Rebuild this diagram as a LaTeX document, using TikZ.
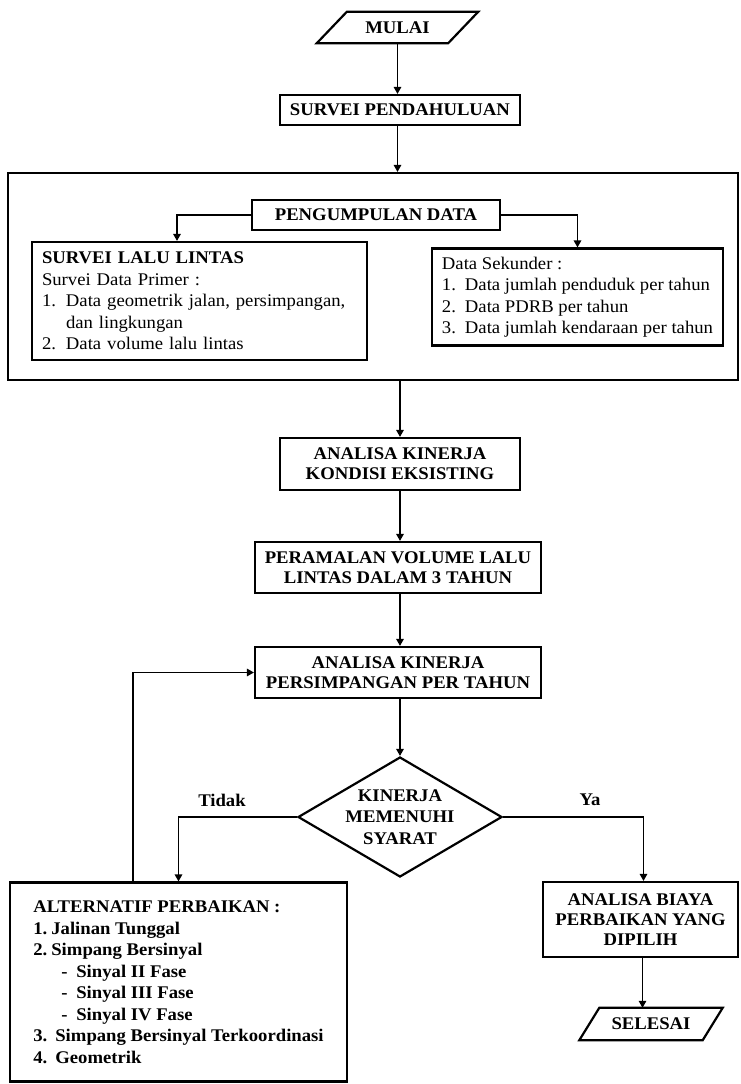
\documentclass[tikz,border=0pt]{standalone}
\usepackage{fontspec}
\setmainfont[FakeStretch=1.05]{Liberation Serif}
\usetikzlibrary{shapes.geometric,arrows.meta}

\newcommand{\nomor}[2]{\makebox[#1][l]{#2}}

\begin{document}
\begin{tikzpicture}[x=1pt, y=-1pt,
    box/.style={draw, line width=2.2pt, inner sep=0pt, align=center,
                font=\fontsize{17.8}{20}\selectfont\bfseries},
    listbox/.style={draw, line width=2.2pt, inner sep=0pt, align=left,
                font=\fontsize{17.8}{21.5}\selectfont},
    io/.style={inner sep=0pt, font=\fontsize{17.8}{20}\selectfont\bfseries},
    arr/.style={line width=1.5pt, -{Triangle[length=7pt,width=7.5pt]}},
    lbl/.style={font=\fontsize{17.8}{20}\selectfont\bfseries}]
    \useasboundingbox (0,0) rectangle (740,1084);
    % start
    \node [io, minimum width=131, minimum height=31] (mulai) at (397.5,27.5) {MULAI};
    \draw [line width=2.2pt] ([xshift=-15pt]mulai.south west) -- ([xshift=15pt]mulai.north west)
          -- ([xshift=15pt]mulai.north east) -- ([xshift=-15pt]mulai.south east) -- cycle;
    \node [box, minimum width=240, minimum height=30] (pendahuluan) at (400,110) {SURVEI PENDAHULUAN};
    % pengumpulan data
    \node [draw, line width=2.2pt, minimum width=730, minimum height=207] (kumpul) at (373,276.5) {};
    \node [box, minimum width=248, minimum height=30] (data) at (376,215) {PENGUMPULAN DATA};
    \node [listbox, minimum width=335, minimum height=118, text width=315] (primer) at (199.5,301)
      {\textbf{SURVEI LALU LINTAS}\\
       Survei Data Primer :\\
       \nomor{24pt}{1.}Data geometrik jalan, persimpangan,\\
       \nomor{24pt}{}dan lingkungan\\
       \nomor{24pt}{2.}Data volume lalu lintas};
    \node [listbox, minimum width=291, minimum height=97] (sekunder) at (577.5,297)
      {Data Sekunder :\\
       \nomor{23pt}{1.}Data jumlah penduduk per tahun\\
       \nomor{23pt}{2.}Data PDRB per tahun\\
       \nomor{23pt}{3.}Data jumlah kendaraan per tahun};
    % analisa
    \node [box, minimum width=240, minimum height=52] (kondisi) at (400,464) {ANALISA KINERJA\\KONDISI EKSISTING};
    \node [box, minimum width=286, minimum height=51] (ramal) at (398,567.5) {PERAMALAN VOLUME LALU\\LINTAS DALAM 3 TAHUN};
    \node [box, minimum width=286, minimum height=51] (simpang) at (398,672.5) {ANALISA KINERJA\\PERSIMPANGAN PER TAHUN};
    % keputusan
    \node [draw, diamond, aspect=1.7, line width=2.2pt, inner sep=-4pt, minimum width=204, minimum height=120,
           align=center, font=\fontsize{17.8}{21.5}\selectfont\bfseries] (syarat) at (400,817) {KINERJA\\MEMENUHI\\SYARAT};
    \node [lbl] (tidak) at (222,800) {Tidak};
    \node [lbl] (ya) at (590,800) {Ya};
    \node [listbox, font=\fontsize{17.8}{21.5}\selectfont\bfseries, minimum width=337, minimum height=199] (alternatif) at (178.5,982)
      {ALTERNATIF PERBAIKAN :\\
       \nomor{18pt}{1.}Jalinan Tunggal\\
       \nomor{18pt}{2.}Simpang Bersinyal\\
       \hspace*{28pt}\nomor{15pt}{-}Sinyal II Fase\\
       \hspace*{28pt}\nomor{15pt}{-}Sinyal III Fase\\
       \hspace*{28pt}\nomor{15pt}{-}Sinyal IV Fase\\
       \nomor{22pt}{3.}Simpang Bersinyal Terkoordinasi\\
       \nomor{22pt}{4.}Geometrik};
    \node [box, minimum width=195, minimum height=75] (biaya) at (640.5,919.5) {ANALISA BIAYA\\PERBAIKAN YANG\\DIPILIH};
    % end
    \node [io, minimum width=123, minimum height=32] (selesai) at (651,1024) {SELESAI};
    \draw [line width=2.2pt] ([xshift=-10pt]selesai.south west) -- ([xshift=10pt]selesai.north west)
          -- ([xshift=10pt]selesai.north east) -- ([xshift=-10pt]selesai.south east) -- cycle;
    % connectors
    \draw [arr] (mulai.south) -- (pendahuluan.north -| mulai.south);
    \draw [arr] (pendahuluan.south -| mulai.south) -- (kumpul.north -| mulai.south);
    \draw [arr] (data.west) -| ([xshift=-22.5pt]primer.north);
    \draw [arr] (data.east) -| (sekunder.north);
    \draw [arr] (kumpul.south -| kondisi.north) -- (kondisi.north);
    \draw [arr] (kondisi.south) -- (ramal.north -| kondisi.south);
    \draw [arr] (ramal.south -| kondisi.south) -- (simpang.north -| kondisi.south);
    \draw [arr] (simpang.south -| syarat.north) -- (syarat.north);
    \draw [arr] (syarat.west) -| (alternatif.north);
    \draw [arr] (syarat.east) -| ([xshift=3pt]biaya.north);
    \draw [arr] ([xshift=-45.5pt]alternatif.north) |- (simpang.west);
    \draw [arr] ([xshift=2pt]biaya.south) -- ([xshift=2pt]biaya.south |- selesai.north);
\end{tikzpicture}
\end{document}
